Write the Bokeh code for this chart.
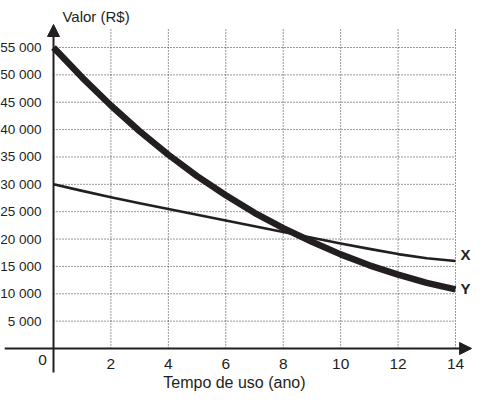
from bokeh.plotting import figure
from bokeh.models import LinearAxis, FixedTicker, Arrow, NormalHead
from bokeh.core.properties import value
from bokeh.embed import file_html
from bokeh.resources import INLINE

# ---- data ----
years = [0, 1, 2, 3, 4, 5, 6, 7, 8, 9, 10, 11, 12, 13, 14]
valor_x = [30000, 28800, 27650, 26550, 25500, 24450, 23400, 22350, 21300, 20250, 19200, 18200, 17250, 16500, 16000]
valor_y = [55000, 49500, 44400, 39700, 35400, 31500, 28000, 24800, 22000, 19500, 17200, 15200, 13500, 12000, 10800]
x_ticks = [2, 4, 6, 8, 10, 12, 14]
y_ticks = [5000, 10000, 15000, 20000, 25000, 30000, 35000, 40000, 45000, 50000, 55000]
y_tick_labels = ["5 000", "10 000", "15 000", "20 000", "25 000", "30 000", "35 000",
                 "40 000", "45 000", "50 000", "55 000"]
series_names = ["X", "Y"]
x_title = "Tempo de uso (ano)"
y_title = "Valor (R$)"

FONT = "Liberation Sans"
INK = "#231f20"

p = figure(width=483, height=404, output_backend="svg", toolbar_location=None,
           x_range=(-1.846, 14.975), y_range=(-10233, 63588), min_border=0)
p.xaxis.visible = False
p.yaxis.visible = False
p.xgrid.visible = False
p.ygrid.visible = False
p.outline_line_color = None

# grid (dotted)
x_max = max(x_ticks)
p.segment(x0=x_ticks, y0=[0] * len(x_ticks), x1=x_ticks, y1=[58300] * len(x_ticks),
          line_color="#333333", line_width=1, line_dash="1 2")
p.segment(x0=[0] * len(y_ticks), y0=y_ticks, x1=[x_max] * len(y_ticks), y1=y_ticks,
          line_color="#333333", line_width=1, line_dash="1 2")

# axes with arrows
p.add_layout(Arrow(end=NormalHead(size=12, fill_color=INK, line_color=INK),
                   x_start=-1.7, y_start=0, x_end=14.56, y_end=0,
                   line_color=INK, line_width=2))
p.add_layout(Arrow(end=NormalHead(size=12, fill_color=INK, line_color=INK),
                   x_start=0, y_start=-4385, x_end=0, y_end=59200,
                   line_color=INK, line_width=2))

# series
p.line(years, valor_x, line_color=INK, line_width=2.6, line_join="round")
p.line(years, valor_y, line_color=INK, line_width=6.5, line_join="round")

# series labels
p.text(x=[years[-1], years[-1]], y=[valor_x[-1], valor_y[-1]], text=series_names,
       x_offset=5, y_offset=[-6, -1], text_font=value(FONT), text_font_size="15px",
       text_font_style="bold", text_color=INK, text_baseline="middle", text_align="left")

# tick axes at fixed locations
yax = LinearAxis(fixed_location=0, ticker=FixedTicker(ticks=y_ticks))
yax.major_label_overrides = {t: s for t, s in zip(y_ticks, y_tick_labels)}
yax.axis_line_color = None
yax.major_tick_line_color = None
yax.minor_tick_line_color = None
yax.major_label_standoff = 6
yax.major_label_text_font = FONT
yax.major_label_text_font_size = "13.5px"
yax.major_label_text_color = INK
p.add_layout(yax, "left")

xax = LinearAxis(fixed_location=0, ticker=FixedTicker(ticks=x_ticks))
xax.axis_line_color = None
xax.major_tick_line_color = None
xax.minor_tick_line_color = None
xax.major_label_standoff = 5
xax.major_label_text_font = FONT
xax.major_label_text_font_size = "15.5px"
xax.major_label_text_color = INK
p.add_layout(xax, "below")

# "0" origin label
p.text(x=[0], y=[0], text=["0"], x_offset=-11, y_offset=7, text_font=value(FONT),
       text_font_size="15.5px", text_color=INK, text_baseline="top", text_align="center")

# titles
p.text(x=[0.31], y=[60664], text=[y_title], text_font=value(FONT), text_font_size="15px",
       text_color=INK, text_baseline="middle", text_align="left")
p.text(x=[6.3], y=[-6213], text=[x_title], text_font=value(FONT), text_font_size="16px",
       text_color=INK, text_baseline="middle", text_align="center")

open("out.html", "w").write(file_html(p, INLINE))
